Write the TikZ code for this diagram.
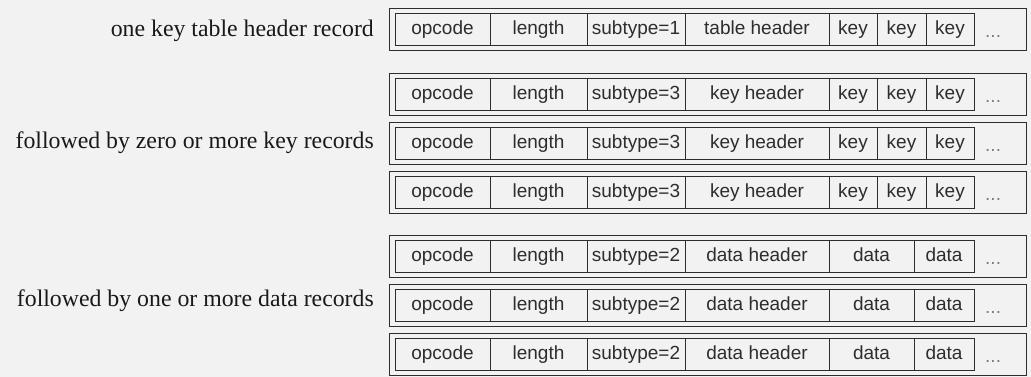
\documentclass[tikz,border=0pt]{standalone}
\usepackage{fontspec}
\setmainfont{Liberation Serif}
\newfontfamily\cellfamily{Liberation Sans}
\usetikzlibrary{positioning}
\definecolor{pagegray}{RGB}{242,242,242}
\definecolor{inkgray}{RGB}{45,45,45}
\definecolor{dotgray}{RGB}{125,125,125}
\tikzset{
  frame/.style={draw=inkgray, line width=1.3pt, minimum width=637pt,
                minimum height=42pt, inner sep=0pt, outer sep=0pt},
  cell/.style={draw=inkgray, line width=0.9pt, minimum height=32pt, inner sep=0pt,
               outer sep=0pt, anchor=west, text=inkgray, text height=13.5pt, text depth=3pt,
               font=\cellfamily\fontsize{19pt}{21pt}\selectfont},
  dots/.style={inner sep=0pt, text=dotgray, font=\cellfamily\fontsize{19pt}{21pt}\selectfont},
  caption/.style={anchor=base east, inner sep=0pt, text=black!90,
                  font=\fontsize{23.8pt}{26pt}\selectfont},
}
\begin{document}
\begin{tikzpicture}[x=1pt, y=-1pt]
  \fill[pagegray] (0,0) rectangle (1031,377);
  \useasboundingbox (0,0) rectangle (1031,377);
  % captions on the left
  \node[caption] (capheader) at (374,37) {one key table header record};
  \node[caption] (capkeys) at (374,148.5) {followed by zero or more key records};
  \node[caption] (capdata) at (374,306.5) {followed by one or more data records};
  % key table header record and key records
  \foreach \r/\y/\s/\h in {1/29.5/1/table header, 2/94.5/3/key header,
                           3/143.5/3/key header, 4/192.5/3/key header} {
    \node[frame] (rec\r) at (708,\y) {};
    \node[cell, minimum width=95pt] (op\r) at (395,\y) {opcode};
    \node[cell, minimum width=97pt, right=0pt of op\r] (len\r) {length};
    \node[cell, minimum width=98pt, right=0pt of len\r] (sub\r) {subtype=\s};
    \node[cell, minimum width=144pt, right=0pt of sub\r] (hd\r) {\h};
    \node[cell, minimum width=48pt, right=0pt of hd\r] (ka\r) {key};
    \node[cell, minimum width=49pt, right=0pt of ka\r] (kb\r) {key};
    \node[cell, minimum width=48pt, right=0pt of kb\r] (kc\r) {key};
    \node[dots, anchor=base west] (more\r) at ([xshift=11pt, yshift=-8pt]kc\r.east) {...};
  }
  % data records
  \foreach \r/\y in {5/256.5, 6/305.5, 7/354.5} {
    \node[frame] (rec\r) at (708,\y) {};
    \node[cell, minimum width=95pt] (op\r) at (395,\y) {opcode};
    \node[cell, minimum width=97pt, right=0pt of op\r] (len\r) {length};
    \node[cell, minimum width=98pt, right=0pt of len\r] (sub\r) {subtype=2};
    \node[cell, minimum width=144pt, right=0pt of sub\r] (hd\r) {data header};
    \node[cell, minimum width=85pt, right=0pt of hd\r] (da\r) {data};
    \node[cell, minimum width=60pt, right=0pt of da\r] (db\r) {data};
    \node[dots, anchor=base west] (more\r) at ([xshift=11pt, yshift=-8pt]db\r.east) {...};
  }
\end{tikzpicture}
\end{document}
